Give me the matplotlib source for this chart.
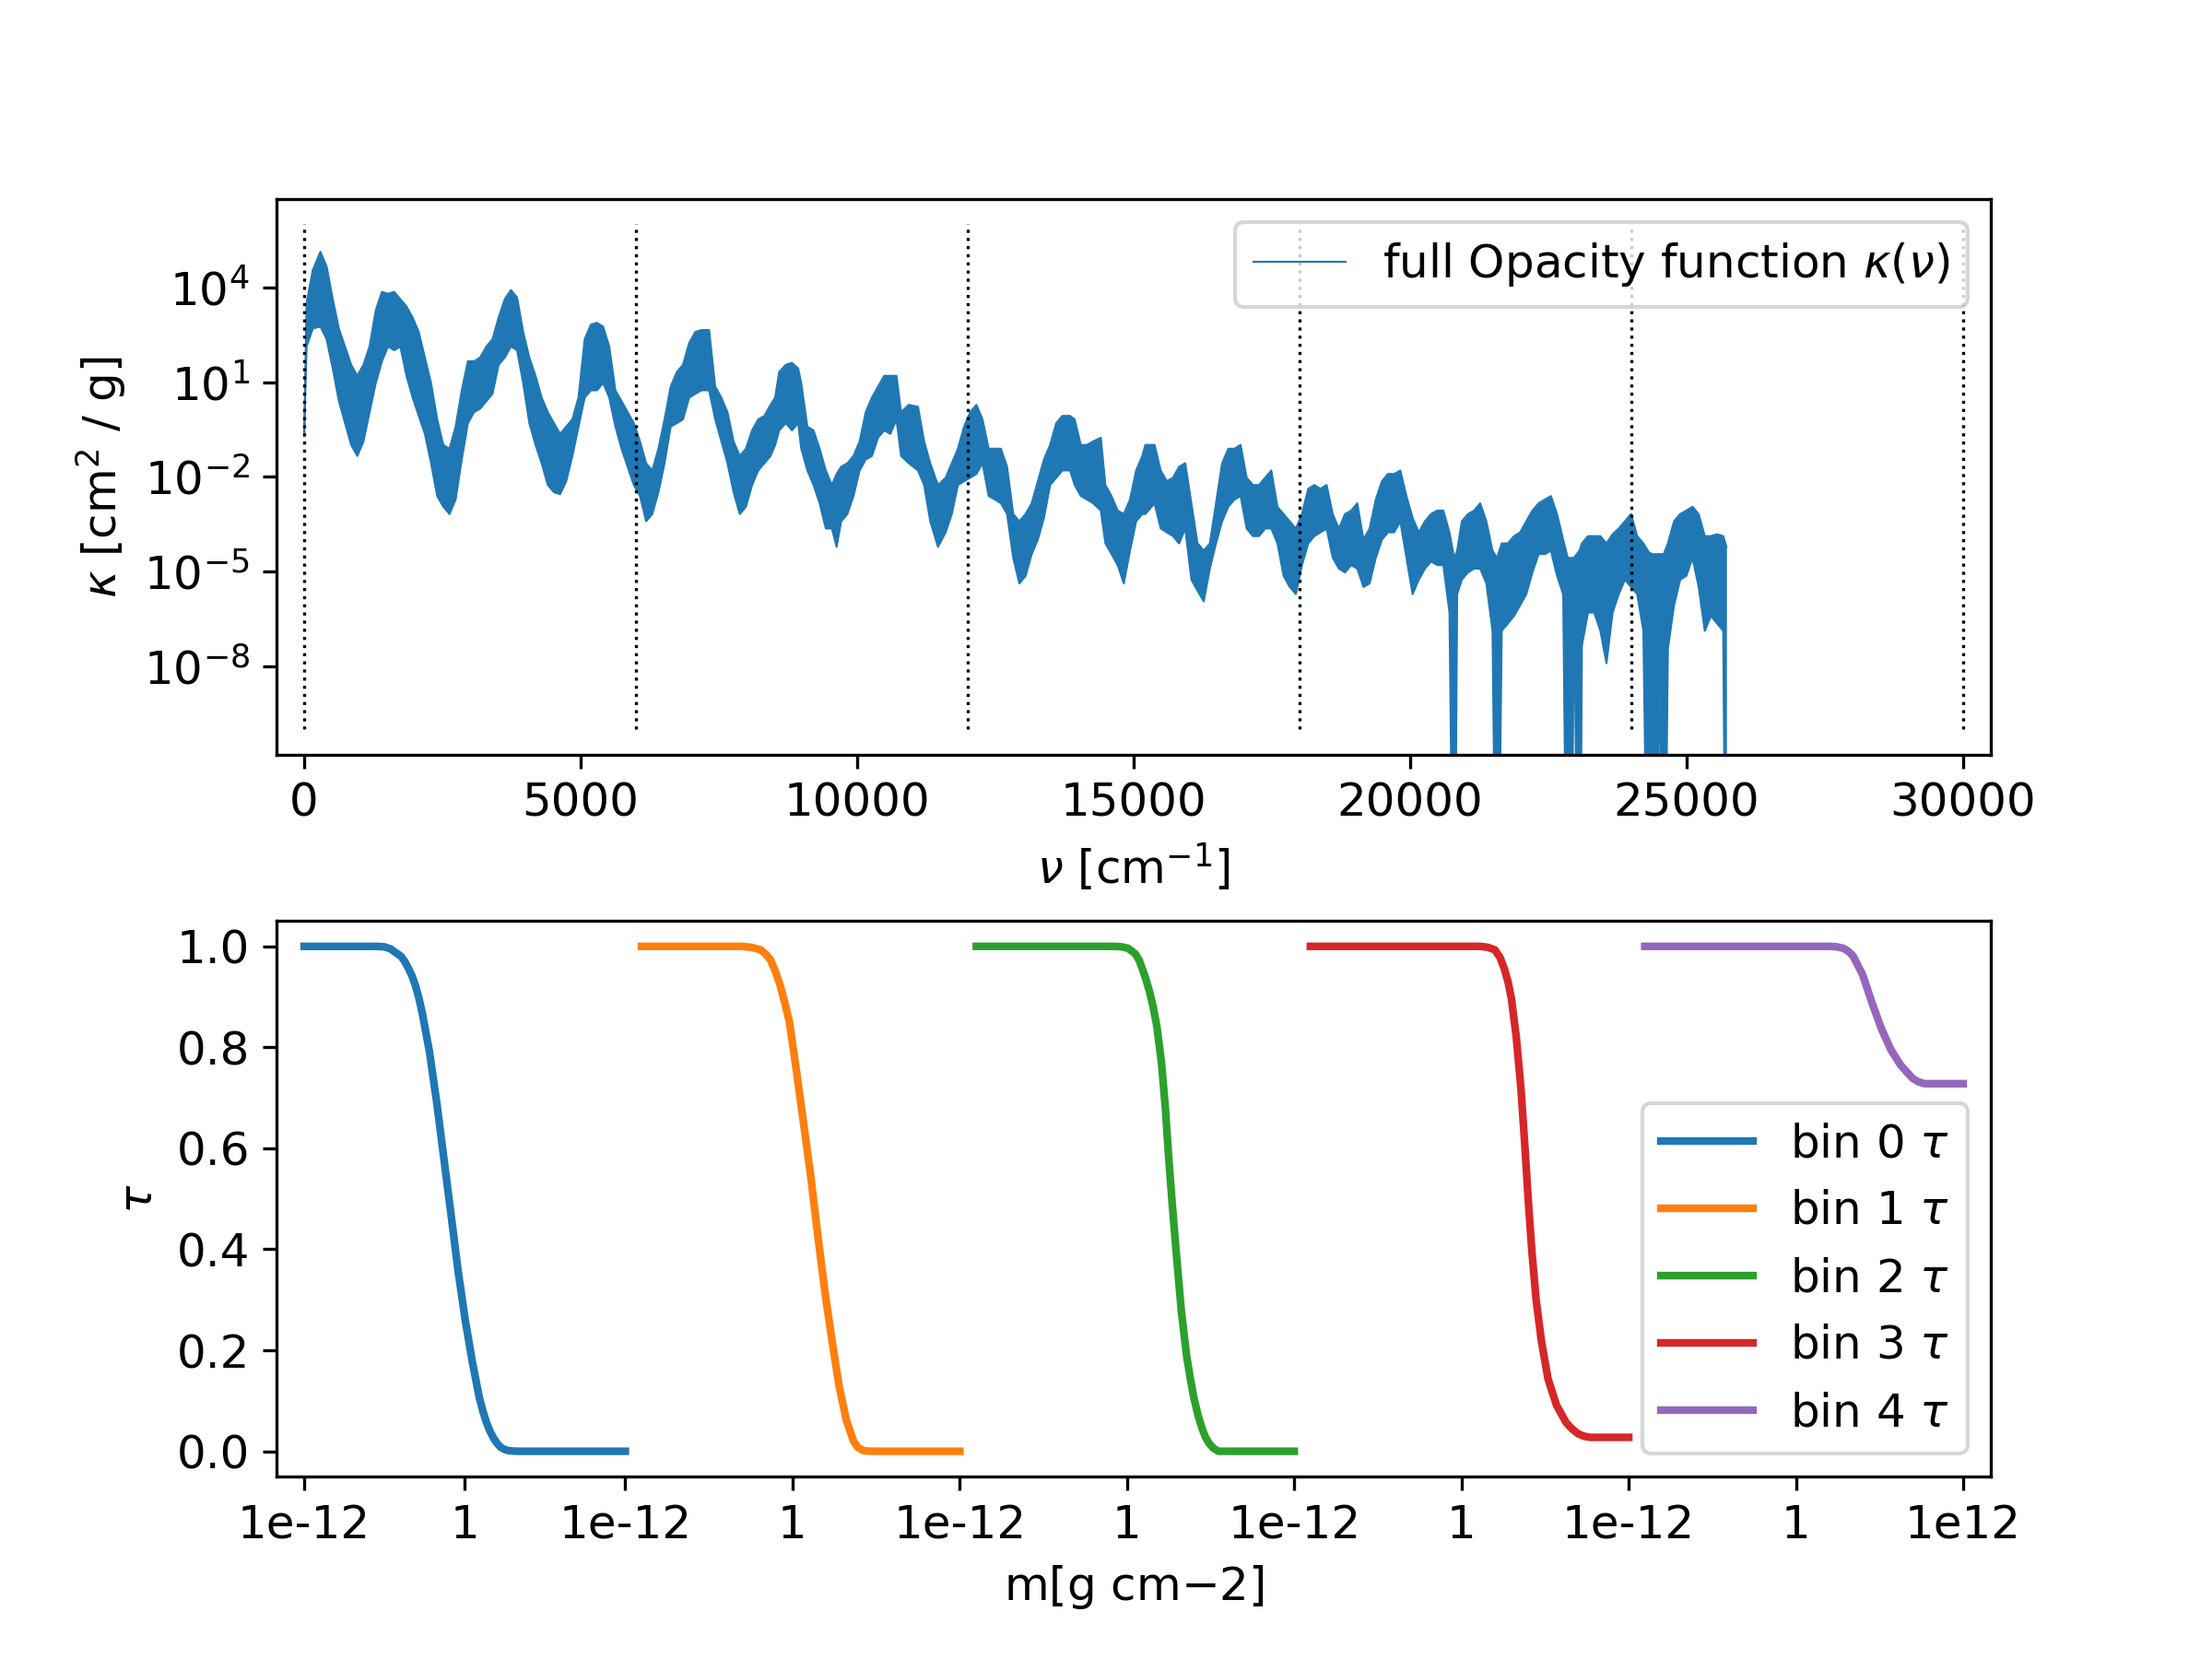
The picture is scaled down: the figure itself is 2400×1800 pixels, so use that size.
import numpy as np
import matplotlib
matplotlib.use('Agg')
from matplotlib import pyplot as plt

plt.rcParams['font.size'] = 12

nu = [0, 44, 156, 294, 406, 517, 628, 739, 850, 961, 1072, 1183, 1295, 1406, 1517,
      1628, 1739, 1850, 1961, 2072, 2183, 2295, 2406, 2517, 2628, 2739, 2850, 2961,
      3072, 3183, 3295, 3406, 3517, 3628, 3739, 3850, 3961, 4072, 4184, 4295, 4406,
      4517, 4628, 4739, 4850, 4961, 5073, 5184, 5295, 5406, 5517, 5628, 5739, 5850,
      5961, 6073, 6184, 6295, 6406, 6517, 6628, 6739, 6850, 6962, 7073, 7184, 7323,
      7433, 7544, 7655, 7766, 7877, 7988, 8100, 8211, 8322, 8433, 8517, 8589, 8711,
      8822, 8933, 8989, 9100, 9211, 9322, 9433, 9544, 9628, 9711, 9822, 9933, 10044,
      10155, 10267, 10378, 10489, 10600, 10711, 10794, 10933, 11100, 11211, 11322,
      11461, 11600, 11711, 11822, 11933, 12044, 12156, 12267, 12378, 12489, 12600,
      12711, 12822, 12933, 13045, 13156, 13267, 13378, 13489, 13600, 13711, 13850,
      13933, 14045, 14156, 14267, 14406, 14489, 14600, 14711, 14822, 14934, 15045,
      15156, 15211, 15378, 15489, 15600, 15711, 15822, 15933, 16044, 16155, 16267,
      16378, 16489, 16600, 16711, 16822, 16933, 17044, 17156, 17267, 17378, 17489,
      17600, 17711, 17822, 17933, 18044, 18156, 18267, 18378, 18489, 18600, 18711,
      18822, 18933, 19044, 19156, 19267, 19378, 19489, 19600, 19711, 19822, 19933,
      20044, 20156, 20267, 20378, 20489, 20600, 20711, 20795, 20850, 20934, 21045,
      21156, 21267, 21378, 21489, 21572, 21656, 21767, 21878, 21989, 22100, 22211,
      22323, 22434, 22545, 22656, 22767, 22850, 22906, 22961, 23061, 23106, 23217,
      23328, 23439, 23550, 23661, 23772, 23883, 23994, 24106, 24217, 24320, 24380,
      24433, 24500, 24585, 24661, 24772, 24883, 24994, 25106, 25217, 25328, 25439,
      25550, 25661, 25720]

log_kappa_upper = [
    -0.70, 3.51, 4.55, 5.13, 4.67, 3.63, 2.70, 2.13, 1.55, 1.20, 1.55, 2.13, 3.28, 3.86, 3.80,
    3.86, 3.63, 3.40, 3.05, 2.59, 1.78, 0.97, -0.18, -0.99, -1.11, -0.41, 0.74, 1.66,
    1.66, 1.78, 2.13, 2.36, 3.05, 3.63, 3.92, 3.68, 2.59, 1.78, 1.20, 0.51, 0.05,
    -0.30, -0.64, -0.41, -0.18, 0.51, 2.36, 2.82, 2.88, 2.76, 2.13, 0.74, 0.40, 0.05,
    -0.30, -0.88, -1.57, -1.80, -1.11, -0.18, 0.86, 1.32, 1.55, 2.24, 2.59, 2.65, 2.65,
    0.86, 0.51, 0.05, -0.88, -1.34, -1.11, -0.53, -0.18, -0.07, 0.28, 0.51, 1.32, 1.55,
    1.61, 1.43, 0.97, -0.41, -0.53, -1.11, -1.80, -2.26, -1.91, -1.68, -1.57, -1.34, -0.88,
    0.05, 0.51, 0.86, 1.20, 1.20, 1.20, 0.05, 0.28, 0.22, -0.88, -1.57,
    -2.26, -2.03, -1.57, -1.11, -0.41, 0.05, 0.28, -0.18, -1.11, -1.11, -1.11,
    -1.68, -3.18, -3.41, -3.18, -2.84, -2.14, -1.45, -0.99, -0.30, -0.07, -0.07,
    -0.18, -0.99, -0.99, -0.88, -0.76, -2.26, -2.61, -3.07, -3.18, -2.72, -1.80,
    -1.34, -0.99, -0.99, -1.80, -2.14, -2.03, -1.68, -1.57, -2.84, -4.11, -4.34,
    -4.11, -2.84, -1.57, -1.11, -1.11, -0.99, -2.03, -2.26, -2.26, -2.03, -1.80,
    -2.95, -3.18, -3.41, -3.64, -3.18, -2.38, -2.26, -2.38, -2.26, -3.18, -3.64,
    -3.18, -3.07, -2.84, -3.99, -3.64, -2.72, -2.14, -1.91, -1.91, -1.80, -2.61,
    -3.30, -3.76, -3.41, -3.18, -3.07, -3.07, -3.76, -4.57, -4.34, -3.41, -3.18,
    -3.07, -2.84, -3.41, -4.34, -4.57, -4.11, -4.11, -3.88, -3.76, -3.41, -3.07,
    -2.84, -2.72, -2.61, -3.18, -3.99, -4.57, -4.57, -4.57, -4.34, -4.11, -3.88,
    -3.88, -3.88, -4.11, -3.82, -3.64, -3.41, -3.18, -3.88, -4.11, -4.40, -4.45,
    -4.45, -4.45, -4.45, -4.11, -3.41, -3.18, -3.07, -2.95, -3.18, -3.88, -3.88,
    -3.82, -3.88, -4.22]

log_kappa_lower = [
    -0.70, 2.13, 2.70, 2.76, 2.36, 1.43, 0.40, -0.30, -0.99, -1.34, -0.88, 0.05, 0.97, 1.66, 2.13,
    2.01, 2.13, 1.20, 0.51, -0.07, -0.64, -1.57, -2.61, -2.95, -3.18, -2.72, -1.45, -0.30,
    0.05, 0.16, 0.40, 0.63, 1.55, 1.78, 2.13, 2.01, 0.97, -0.30, -0.99, -1.57, -2.26,
    -2.49, -2.55, -2.14, -1.34, -0.41, 0.51, 0.74, 0.74, 0.97, 0.51, -0.41, -1.11, -1.68,
    -2.26, -2.61, -3.41, -3.18, -2.49, -1.57, -0.41, -0.30, -0.18, 0.51, 0.63, 0.74, 0.74,
    -0.18, -0.88, -1.57, -2.49, -3.18, -2.95, -2.26, -1.80, -1.57, -1.34, -0.99, -0.53, -0.30,
    -0.53, -0.30, -1.11, -1.80, -2.26, -2.84, -3.64, -3.64, -4.22, -3.41, -3.18, -2.61, -1.80,
    -1.45, -1.34, -0.76, -0.53, -0.64, -0.18, -1.34, -1.57, -1.80, -2.26, -3.41,
    -4.22, -3.76, -3.18, -2.26, -2.14, -2.03, -1.91, -1.57, -2.61, -2.72, -2.84,
    -3.18, -4.57, -5.38, -5.14, -4.45, -3.99, -3.30, -2.26, -2.03, -1.80, -1.80,
    -2.26, -2.61, -2.72, -2.84, -3.07, -4.11, -4.45, -4.80, -5.38, -4.34, -3.41,
    -3.18, -3.18, -2.84, -3.64, -3.76, -3.88, -4.11, -3.64, -5.26, -5.61, -5.95,
    -4.91, -4.11, -3.41, -2.95, -2.72, -2.61, -3.64, -3.88, -3.88, -3.64, -3.64,
    -4.11, -5.14, -5.49, -5.72, -4.80, -4.11, -3.88, -3.76, -3.64, -4.57, -4.91,
    -5.03, -4.80, -4.91, -5.49, -5.38, -4.57, -3.99, -3.76, -3.76, -3.41, -4.57,
    -5.72, -5.26, -4.91, -4.68, -4.80, -4.80, -6.30, -20.0, -5.72, -5.26, -5.03,
    -4.91, -4.91, -5.38, -6.88, -20.0, -6.88, -6.65, -6.41, -6.07, -5.72, -5.03,
    -4.45, -4.45, -4.34, -5.14, -5.72, -20.0, -20.0, -5.72, -20.0, -7.34, -6.30,
    -6.30, -6.88, -7.91, -6.30, -5.72, -5.26, -5.49, -5.72, -6.88, -20.0, -6.50,
    -20.0, -7.45, -20.0, -7.45, -6.07, -5.26, -5.14, -4.57, -5.49, -6.88, -6.41,
    -6.65, -6.88, -20.0]

bin_edges_nu = [0, 6000, 12000, 18000, 24000, 30000]

# --- bottom panel: tau vs log10(m) per bin ---
bin_logm = [
    [-12, -6.6, -6.0, -5.55, -4.75, -4.48, -4.22, -3.95, -3.69, -3.42, -3.16, -2.63, -2.1,
     -1.57, -1.04, -0.5, 0.03, 0.56, 1.09, 1.35, 1.62, 1.88, 2.15, 2.41, 2.68, 2.95, 3.21,
     3.6, 4.0, 12],
    [-12, -4.44, -3.7, -3.0, -2.65, -2.29, -1.93, -1.57, -1.21, -0.85, -0.32, 0.22, 0.76,
     1.30, 1.84, 2.37, 2.91, 3.45, 3.99, 4.3, 4.70, 5.1, 5.6, 12],
    [-12, -1.61, -1.0, -0.53, 0.01, 0.3, 0.54, 0.8, 1.08, 1.35, 1.62, 1.98, 2.27, 2.52,
     2.8, 3.13, 3.48, 3.88, 4.15, 4.42, 4.72, 5.03, 5.3, 5.56, 5.9, 6.28, 12],
    [-12, 0.84, 1.4, 1.91, 2.3, 2.63, 2.9, 3.16, 3.52, 3.88, 4.17, 4.42, 4.70, 5.02, 5.42,
     5.92, 6.56, 7.28, 7.7, 8.17, 8.6, 9.07, 12],
    [-12, 1.91, 2.5, 2.99, 3.35, 3.70, 4.42, 5.13, 5.85, 6.56, 7.28, 8.17, 8.6, 9.07, 12],
]
bin_tau = [
    [1, 1, 0.999, 0.995, 0.98, 0.97, 0.957, 0.942, 0.923, 0.897, 0.866, 0.79, 0.692,
     0.582, 0.472, 0.358, 0.261, 0.178, 0.106, 0.08, 0.057, 0.04, 0.026, 0.016, 0.008,
     0.004, 0.0015, 0.0004, 0, 0],
    [1, 1, 0.998, 0.993, 0.985, 0.974, 0.952, 0.925, 0.89, 0.851, 0.754, 0.65, 0.545,
     0.426, 0.314, 0.218, 0.128, 0.061, 0.02, 0.008, 0.0015, 0.0003, 0, 0],
    [1, 1, 0.999, 0.996, 0.985, 0.972, 0.955, 0.935, 0.91, 0.88, 0.843, 0.769, 0.68,
     0.583, 0.486, 0.382, 0.277, 0.188, 0.145, 0.106, 0.073, 0.046, 0.028, 0.016, 0.006,
     0, 0],
    [1, 1, 0.998, 0.993, 0.978, 0.955, 0.93, 0.896, 0.821, 0.717, 0.605, 0.5, 0.396,
     0.3, 0.218, 0.143, 0.091, 0.057, 0.045, 0.035, 0.03, 0.0276, 0.0276],
    [1, 1, 0.999, 0.996, 0.99, 0.981, 0.944, 0.888, 0.836, 0.795, 0.765, 0.739, 0.732,
     0.728, 0.728],
]
# where each bin's curve sits along the shared x axis
bin_start = [0, 6100, 12155, 18196, 24243]
bin_end = [5808, 11856, 17904, 23952, 30000]
m_ticks = [0, 2904, 5808, 8832, 11856, 14880, 17904, 20928, 23952, 26976, 30000]
m_ticklabels = ['1e-12', '1', '1e-12', '1', '1e-12', '1', '1e-12', '1', '1e-12', '1', '1e12']

fig, (ax1, ax2) = plt.subplots(2, 1, figsize=(8, 6), dpi=300)
fig.subplots_adjust(hspace=0.3)

nu_arr = np.array(nu)
upper = 10.0 ** np.array(log_kappa_upper)
lower = 10.0 ** np.array(log_kappa_lower)
ax1.fill_between(nu_arr, lower, upper, color='C0', linewidth=0)
ax1.plot(nu_arr, upper, color='C0', lw=0.5, label=r'full Opacity function $\kappa(\nu)$')
ax1.plot(nu_arr, lower, color='C0', lw=0.5)
ax1.vlines(bin_edges_nu, 1e-10, 1e6, colors='k', linestyles='dotted', lw=0.8)
ax1.set_yscale('log')
ax1.set_ylim(10 ** -10.8, 10 ** 6.8)
ax1.set_xlim(-500, 30500)
ax1.yaxis.set_minor_locator(matplotlib.ticker.NullLocator())
ax1.set_xlabel(r'$\nu$ [cm$^{-1}$]')
ax1.set_ylabel(r'$\kappa$ [cm$^2$ / g]')
ax1.legend(loc='upper right')

for i in range(len(bin_tau)):
    logm = np.array(bin_logm[i])
    x = bin_start[i] + (logm + 12) / 24 * (bin_end[i] - bin_start[i])
    ax2.plot(x, bin_tau[i], lw=2, color=f'C{i}', label=f'bin {i} $\\tau$')
ax2.set_xlim(-500, 30500)
ax2.set_xticks(m_ticks)
ax2.set_xticklabels(m_ticklabels)
ax2.set_xlabel(r'm[g cm$-2$]')
ax2.set_ylabel(r'$\tau$')
ax2.legend(loc='lower right')

fig.savefig('out.png', dpi=300)
plt.close(fig)
